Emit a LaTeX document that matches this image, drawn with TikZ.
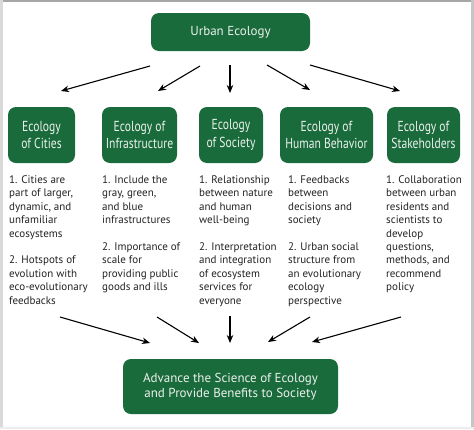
\documentclass[tikz,border=0pt]{standalone}
\usepackage{fontspec}
\setmainfont{PT Sans}
\newfontfamily\headfont[FakeStretch=0.8]{PT Sans}
\usetikzlibrary{arrows.meta}
\definecolor{ecogreen}{RGB}{26,107,60}
\definecolor{bodytext}{RGB}{35,35,35}
\definecolor{boxtext}{RGB}{235,240,236}
\begin{document}
\begin{tikzpicture}[x=1pt,y=-1pt,
  gbox/.style={fill=ecogreen, rounded corners=8pt, text=boxtext, align=center, inner sep=0pt},
  headbox/.style={gbox, font=\headfont\fontsize{14.5}{17.5}\selectfont},
  body/.style={anchor=north west, align=left, inner sep=0pt, text=bodytext, font=\fontsize{11}{13.4}\selectfont},
  arr/.style={-{Stealth[length=8pt,width=6.5pt]}, line width=1.1pt, black}]
\useasboundingbox (0,0) rectangle (474,429);
% frame
\fill[white] (0,0) rectangle (474,429);
\fill[gray!70] (0,0) rectangle (474,2);
\fill[gray!30] (0,0) rectangle (2.5,429);
\fill[gray!45] (471,0) rectangle (474,429);
\fill[gray!15] (0,427) rectangle (474,429);
% top and bottom boxes
\node[gbox, minimum width=159pt, minimum height=38pt, font=\fontsize{13}{15.5}\selectfont] (top) at (230.5,32) {Urban Ecology};
\node[gbox, minimum width=215pt, minimum height=55pt, font=\fontsize{13}{15.5}\selectfont] (goal) at (230.5,386.5) {Advance the Science of Ecology\\and Provide Benefits to Society};
% heading boxes
\node[headbox, minimum width=67pt, minimum height=56pt] (b1) at (41.5,135) {Ecology\\of Cities};
\node[headbox, minimum width=75pt, minimum height=56pt] (b2) at (139.5,135) {Ecology of\\Infrastructure};
\node[headbox, minimum width=64pt, minimum height=56pt] (b3) at (231,135) {Ecology\\of Society};
\node[headbox, minimum width=93pt, minimum height=56pt] (b4) at (326.5,135) {Ecology of\\Human Behavior};
\node[headbox, minimum width=73pt, minimum height=56pt] (b5) at (423.5,135) {Ecology of\\Stakeholders};
% body texts
\node[body] (t1) at (9,175.5) {1. Cities are\\part of larger,\\dynamic, and\\unfamiliar\\ecosystems\\[13.4pt]2. Hotspots of\\evolution with\\eco-evolutionary\\feedbacks};
\node[body] (t2) at (102,175.5) {1. Include the\\gray, green,\\and blue\\infrastructures\\[13.4pt]2. Importance of\\scale for\\providing public\\goods and ills};
\node[body] (t3) at (199,175.5) {1. Relationship\\between nature\\and human\\well-being\\[13.4pt]2. Interpretation\\and integration\\of ecosystem\\services for\\everyone};
\node[body] (t4) at (288,175.5) {1. Feedbacks\\between\\decisions and\\society\\[13.4pt]2. Urban social\\structure from\\an evolutionary\\ecology\\perspective};
\node[body] (t5) at (386,175.5) {1. Collaboration\\between urban\\residents and\\scientists to\\develop\\questions,\\methods, and\\recommend\\policy};
% arrow end points
\coordinate (u1) at (150,66); \coordinate (v1) at (61,91);
\coordinate (u2) at (200,66); \coordinate (v2) at (158,91);
\coordinate (u3) at (230,65); \coordinate (v3) at (230,93);
\coordinate (u4) at (267,65); \coordinate (v4) at (310,90);
\coordinate (u5) at (310,65); \coordinate (v5) at (400,91);
\coordinate (p1) at (60,317); \coordinate (q1) at (150,343);
\coordinate (p2) at (157,317); \coordinate (q2) at (199,343);
\coordinate (p3) at (230,316); \coordinate (q3) at (230,343);
\coordinate (p4) at (310,317); \coordinate (q4) at (268,342);
\coordinate (p5) at (401,317); \coordinate (q5) at (312,342);
\foreach \i in {1,...,5} {
  \draw[arr] (u\i) -- (v\i);
  \draw[arr] (p\i) -- (q\i);
}
\end{tikzpicture}
\end{document}
